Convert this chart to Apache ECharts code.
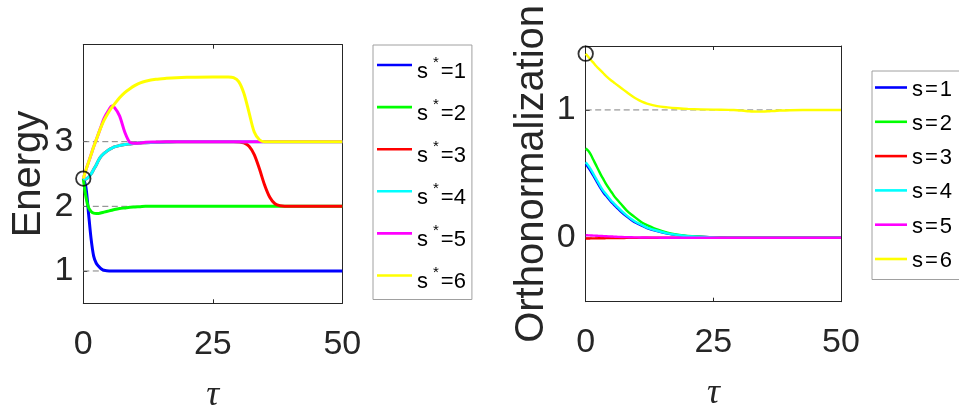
<!DOCTYPE html>
<html>
<head>
<meta charset="utf-8">
<script src="https://cdn.jsdelivr.net/npm/echarts@6/dist/echarts.min.js"></script>
<style>
html,body{margin:0;padding:0;background:#fff;}
#chart{width:959px;height:408px;}
</style>
</head>
<body>
<div id="chart"></div>
<script>
// ---- data ----
const tau = [0,0.5,1,1.5,2,2.5,3,3.5,4,5,5.5,6,7,8,9,10,11,12,14,16,18,20,25,28,29,30,31,32,33,34,35,36,37,38,40,45,50];

const energyNames = ['s*=1','s*=2','s*=3','s*=4','s*=5','s*=6'];
const orthoNames = ['s=1','s=2','s=3','s=4','s=5','s=6'];
const seriesColors = ['#0000ff','#00ff00','#ff0000','#00ffff','#ff00ff','#ffff00'];

const energy1 = [2.43,2.3,1.9,1.5,1.23,1.12,1.07,1.03,1.01, 1.0,1,1,1,1,1,1,1,1, 1,1,1,1,1,1,1, 1,1,1,1,1,1,1,1,1, 1,1,1];
const energy2 = [2.43,2.15,1.98,1.92,1.895,1.89,1.89,1.9,1.91, 1.93,1.94,1.95,1.965,1.975,1.985,1.99,1.995,2.0, 2,2,2,2,2,2,2, 2,2,2,2,2,2,2,2,2, 2,2,2];
const energy3 = [2.43,2.42,2.45,2.5,2.57,2.64,2.72,2.78,2.82, 2.88,2.9,2.92,2.94,2.955,2.965,2.975,2.98,2.985, 2.99,2.995,3,3,3,3,3, 2.995,2.98,2.93,2.8,2.58,2.33,2.14,2.04,2.01, 2,2,2];
const energy4 = [2.43,2.42,2.45,2.5,2.57,2.64,2.72,2.78,2.82, 2.88,2.9,2.92,2.94,2.955,2.965,2.975,2.98,2.985, 2.99,2.995,3,3,3,3,3, 3,3,3,3,3,3,3,3,3, 3,3,3];
const energy5 = [2.43,2.56,2.68,2.8,2.92,3.03,3.14,3.25,3.36, 3.5,3.55,3.53,3.4,3.15,2.99,2.975,2.98,2.99, 2.995,3,3,3,3,3,3, 3,3,3,3,3,3,3,3,3, 3,3,3];
const energy6 = [2.43,2.56,2.68,2.8,2.92,3.03,3.14,3.24,3.33, 3.47,3.53,3.58,3.68,3.76,3.82,3.87,3.91,3.935, 3.965,3.98,3.99,3.995,4.0,4.0,3.99, 3.93,3.75,3.45,3.15,3.03,3.0,3,3,3, 3,3,3];

const ortho1 = [0.575,0.55,0.52,0.485,0.45,0.415,0.382,0.352,0.328, 0.28,0.26,0.24,0.2,0.167,0.138,0.114,0.095,0.076, 0.052,0.033,0.021,0.012,0.003,0.001,0, 0,0,0,0,0,0,0,0,0, 0,0,0];
const ortho2 = [0.70,0.68,0.65,0.61,0.57,0.53,0.49,0.455,0.42, 0.36,0.33,0.305,0.26,0.215,0.18,0.15,0.12,0.1, 0.065,0.04,0.025,0.015,0.003,0.001,0, 0,0,0,0,0,0,0,0,0, 0,0,0];
const ortho3 = [-0.006,-0.006,-0.005,-0.005,-0.005,-0.004,-0.004,-0.004,-0.003, -0.003,-0.002,-0.002,-0.002,-0.001,-0.001,-0.001,0,0, 0,0,0,0,0,0,0, 0,0,0,0,0,0,0,0,0, 0,0,0];
const ortho4 = [0.59,0.565,0.535,0.5,0.465,0.43,0.395,0.365,0.34, 0.29,0.27,0.25,0.21,0.175,0.145,0.12,0.1,0.08, 0.055,0.035,0.022,0.013,0.003,0.001,0, 0,0,0,0,0,0,0,0,0, 0,0,0];
const ortho5 = [0.02,0.019,0.018,0.017,0.016,0.015,0.014,0.013,0.012, 0.01,0.009,0.008,0.006,0.005,0.004,0.003,0.0025,0.002, 0.001,0,0,0,0,0,0, 0,0,0,0,0,0,0,0,0, 0,0,0];
const ortho6 = [1.44,1.415,1.39,1.37,1.345,1.325,1.305,1.285,1.265, 1.23,1.215,1.2,1.17,1.14,1.11,1.085,1.065,1.05, 1.03,1.02,1.013,1.008,1.002,1.0,0.999, 0.996,0.993,0.99,0.988,0.987,0.988,0.99,0.992,0.995, 0.998,1.0,1.0];

const energyRefLevels = [1,2,3];
const orthoRefLevels = [0,1];
const energyStart = [[0,2.43]];
const orthoStart = [[0,1.44]];

const xTicks = [0,25,50];
const energyTicks = [1,2,3];
const orthoTicks = [0,1];
const xRange = [0,50];
const energyRange = [0.5,4.5];
const orthoRange = [-0.5,1.5];

// ---- chart ----
const energyVals = [energy1,energy2,energy3,energy4,energy5,energy6];
const orthoVals = [ortho1,ortho2,ortho3,ortho4,ortho5,ortho6];
const pair = arr => tau.map((t,i)=>[t,arr[i]]);

const AX = '#262626';
const FONT = '"Liberation Sans", Arial, Helvetica, sans-serif';

function xAx(grid, pos, showLabel){
  return {
    gridIndex: grid, type:'value', position: pos,
    min: xRange[0], max: xRange[1], interval: 25,
    axisLine:{show:true, onZero:false, lineStyle:{color:AX,width:1}},
    axisTick:{show:true, inside:true, length:4, customValues: xTicks, lineStyle:{color:AX,width:1}},
    axisLabel:{show:showLabel, customValues: xTicks, fontFamily:FONT, fontSize:34, color:AX, margin:24},
    splitLine:{show:false},
    name: showLabel ? 'τ' : '',
    nameLocation:'middle', nameGap:74,
    nameTextStyle:{fontFamily:'"Liberation Serif", "Times New Roman", serif', fontStyle:'italic', fontSize:36, color:AX}
  };
}
function yAx(grid, pos, showLabel, range, ticks, name){
  return {
    gridIndex: grid, type:'value', position: pos,
    min: range[0], max: range[1],
    axisLine:{show:true, onZero:false, lineStyle:{color:AX,width:1}},
    axisTick:{show:true, inside:true, length:4, customValues: ticks, lineStyle:{color:AX,width:1}},
    axisLabel:{show:showLabel, customValues: ticks, fontFamily:FONT, fontSize:34, color:AX, margin:10},
    splitLine:{show:false},
    name: showLabel ? name : '',
    nameLocation:'middle', nameGap:34,
    nameTextStyle:{fontFamily:FONT, fontSize:40, color:AX}
  };
}

const series = [];
energyRefLevels.forEach(v=>{
  series.push({type:'line', xAxisIndex:0, yAxisIndex:0, data: xRange.map(x=>[x,v]), showSymbol:false, silent:true,
    lineStyle:{color:'#7f7f7f', width:1, type:[6,3.5]}, z:1});
});
orthoRefLevels.forEach(v=>{
  series.push({type:'line', xAxisIndex:2, yAxisIndex:2, data: xRange.map(x=>[x,v]), showSymbol:false, silent:true,
    lineStyle:{color:'#7f7f7f', width:1, type:[6,3.5]}, z:1});
});
energyNames.forEach((n,i)=>{
  series.push({type:'line', name:n, xAxisIndex:0, yAxisIndex:0, data: pair(energyVals[i]), showSymbol:false, smooth:0.3,
    color: seriesColors[i], lineStyle:{color:seriesColors[i], width:3}, itemStyle:{color:seriesColors[i]}, z:2});
});
orthoNames.forEach((n,i)=>{
  series.push({type:'line', name:n, xAxisIndex:2, yAxisIndex:2, data: pair(orthoVals[i]), showSymbol:false, smooth:0.3,
    color: seriesColors[i], lineStyle:{color:seriesColors[i], width:2.4}, itemStyle:{color:seriesColors[i]}, z:2});
});
series.push({type:'scatter', xAxisIndex:0, yAxisIndex:0, data: energyStart, symbol:'circle', symbolSize:14.5, clip:false, silent:true,
  itemStyle:{color:'rgba(0,0,0,0)', borderColor:'#000', borderWidth:1.8}, z:5});
series.push({type:'scatter', xAxisIndex:2, yAxisIndex:2, data: orthoStart, symbol:'circle', symbolSize:14.5, clip:false, silent:true,
  itemStyle:{color:'rgba(0,0,0,0)', borderColor:'#000', borderWidth:1.8}, z:5});

const option = {
  animation:false,
  backgroundColor:'#fff',
  grid:[
    {left:83.3, top:44.7, width:259, height:258.6, containLabel:false, outerBoundsMode:'none'},
    {left:585.7, top:46, width:255.3, height:255.7, containLabel:false, outerBoundsMode:'none'}
  ],
  xAxis:[ xAx(0,'bottom',true), xAx(0,'top',false), xAx(1,'bottom',true), xAx(1,'top',false) ],
  yAxis:[
    yAx(0,'left',true,energyRange,energyTicks,'Energy'),
    yAx(0,'right',false,energyRange,energyTicks,''),
    yAx(1,'left',true,orthoRange,orthoTicks,'Orthonormalization'),
    yAx(1,'right',false,orthoRange,orthoTicks,'')
  ],
  legend:[
    {
      data: energyNames, orient:'vertical', left:373, top:45,
      padding:[2.5,6,6.5,4], itemGap:7.1, itemWidth:35, itemHeight:2.6, icon:'rect',
      borderColor:'#a0a0a0', borderWidth:1, backgroundColor:'#fff',
      selectedMode:false,
      formatter: n => '{b|' + n.split('*')[0] + '}{sup|*}{b|' + n.split('*')[1] + '}',
      textStyle:{fontFamily:FONT, color:'#000', fontSize:22,
        rich:{
          b:{fontFamily:FONT, fontSize:22, color:'#000', lineHeight:22, padding:[13,0,0,0]},
          sup:{fontFamily:FONT, fontSize:15, color:'#000', lineHeight:15, verticalAlign:'top', padding:[1,2,0,5]}
        }}
    },
    {
      data: orthoNames, orient:'vertical', left:872, top:71,
      padding:[3.5,40,7.5,3], itemGap:8.3, itemWidth:32, itemHeight:2.6, icon:'rect',
      borderColor:'#a0a0a0', borderWidth:1, backgroundColor:'#fff',
      selectedMode:false,
      formatter: n => '{b|s}{e|=}{b|' + n.split('=')[1] + '}',
      textStyle:{fontFamily:FONT, color:'#000', fontSize:22,
        rich:{
          b:{fontFamily:FONT, fontSize:22, color:'#000', lineHeight:20, padding:[4,0,0,0]},
          e:{fontFamily:FONT, fontSize:22, color:'#000', lineHeight:20, padding:[4,2,0,2]}
        }}
    }
  ],
  series: series
};
const chart = echarts.init(document.getElementById('chart'), null, {renderer:'canvas'});
chart.setOption(option);
</script>
</body>
</html>
